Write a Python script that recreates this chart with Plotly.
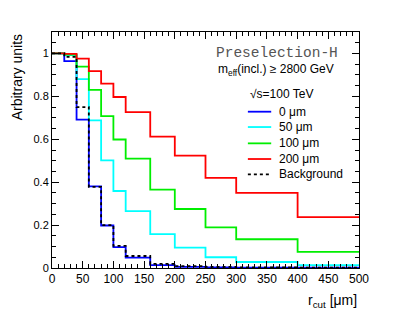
import plotly.graph_objects as go

# bin edges of r_cut [um]
edges = [0, 20, 40, 60, 80, 100, 120, 160, 200, 250, 300, 400, 500]

eff_0um = [1.0, 0.964, 0.692, 0.380, 0.198, 0.097, 0.048, 0.013, 0.005, 0.003, 0.002, 0.002]
eff_50um = [1.0, 0.992, 0.880, 0.688, 0.502, 0.359, 0.265, 0.158, 0.095, 0.050, 0.028, 0.013]
eff_100um = [1.0, 0.995, 0.939, 0.830, 0.708, 0.599, 0.510, 0.365, 0.275, 0.189, 0.134, 0.075]
eff_200um = [1.0, 0.998, 0.976, 0.918, 0.859, 0.797, 0.727, 0.612, 0.524, 0.420, 0.350, 0.237]
eff_bkg = [1.0, 0.984, 0.750, 0.378, 0.200, 0.103, 0.056, 0.019, 0.009, 0.005, 0.003, 0.002]

series = [
    ("0 \u03bcm", eff_0um, "#0000ff", "solid"),
    ("50 \u03bcm", eff_50um, "#00ffff", "solid"),
    ("100 \u03bcm", eff_100um, "#00ee00", "solid"),
    ("200 \u03bcm", eff_200um, "#ff0000", "solid"),
    ("Background", eff_bkg, "#000000", "dot"),
]

x_ticks = [0, 50, 100, 150, 200, 250, 300, 350, 400, 450, 500]
y_ticks = [0, 0.2, 0.4, 0.6, 0.8, 1.0]

FONT = "Liberation Sans, Arial, sans-serif"

fig = go.Figure()
for name, vals, col, dash in series:
    fig.add_trace(go.Scatter(
        x=edges, y=vals + [vals[-1]], mode="lines", name=name,
        line=dict(color=col, width=1.8, dash=dash, shape="hv"),
        showlegend=False, hoverinfo="skip"))

# legend (drawn manually to match compact spacing)
leg_y = [0.7285, 0.657, 0.581, 0.508, 0.436]
for (name, vals, col, dash), yy in zip(series, leg_y):
    fig.add_shape(type="line", xref="x", yref="y", x0=319, x1=357, y0=yy, y1=yy,
                  line=dict(color=col, width=1.8, dash=dash))
    fig.add_annotation(xref="x", yref="y", x=366, y=yy, text=name, showarrow=False,
                       xanchor="left", yanchor="middle",
                       font=dict(family=FONT, size=12, color="black"))

fig.add_annotation(xref="x", yref="y", x=469, y=1.002, text="Preselection-H",
                   showarrow=False, xanchor="right", yanchor="middle",
                   font=dict(family="Liberation Mono, Courier New, monospace", size=14.5, color="#555555"))
fig.add_annotation(xref="x", yref="y", x=462, y=0.923,
                   text="m<sub>eff</sub>(incl.) \u2265 2800 GeV",
                   showarrow=False, xanchor="right", yanchor="middle",
                   font=dict(family=FONT, size=12, color="black"))
fig.add_annotation(xref="x", yref="y", x=319, y=0.811, text="\u221as=100 TeV",
                   showarrow=False, xanchor="left", yanchor="middle",
                   font=dict(family=FONT, size=12, color="black"))

# axis titles
fig.add_annotation(xref="paper", yref="paper", x=-0.113, y=1.0, text="Arbitrary units",
                   textangle=-90, showarrow=False, xanchor="center", yanchor="top",
                   font=dict(family=FONT, size=14, color="black"))
fig.add_annotation(xref="paper", yref="paper", x=1.0, y=-0.14,
                   text="r<sub>cut</sub> [\u03bcm]", showarrow=False,
                   xanchor="right", yanchor="middle",
                   font=dict(family=FONT, size=14, color="black"))

axis_common = dict(showgrid=False, zeroline=False, showline=True, linecolor="black",
                   linewidth=1, mirror="allticks", ticks="inside", tickcolor="black",
                   ticklen=7, tickwidth=1)

fig.update_xaxes(range=[0, 500], tickvals=x_ticks,
                 minor=dict(ticks="inside", dtick=10, ticklen=4, tickcolor="black", tickwidth=1),
                 tickfont=dict(family=FONT, size=12, color="black"), **axis_common)
fig.update_yaxes(range=[0, 1.1], tickvals=y_ticks,
                 minor=dict(ticks="inside", dtick=0.05, ticklen=4, tickcolor="black", tickwidth=1),
                 tickfont=dict(family=FONT, size=11, color="black"), **axis_common)

# page body has an 8px margin, so the figure is shrunk and margins shifted to compensate
fig.update_layout(width=391, height=308, margin=dict(l=44, r=40, t=24, b=48),
                  plot_bgcolor="white", paper_bgcolor="white", showlegend=False,
                  font=dict(family=FONT))

fig.write_html("out.html")
